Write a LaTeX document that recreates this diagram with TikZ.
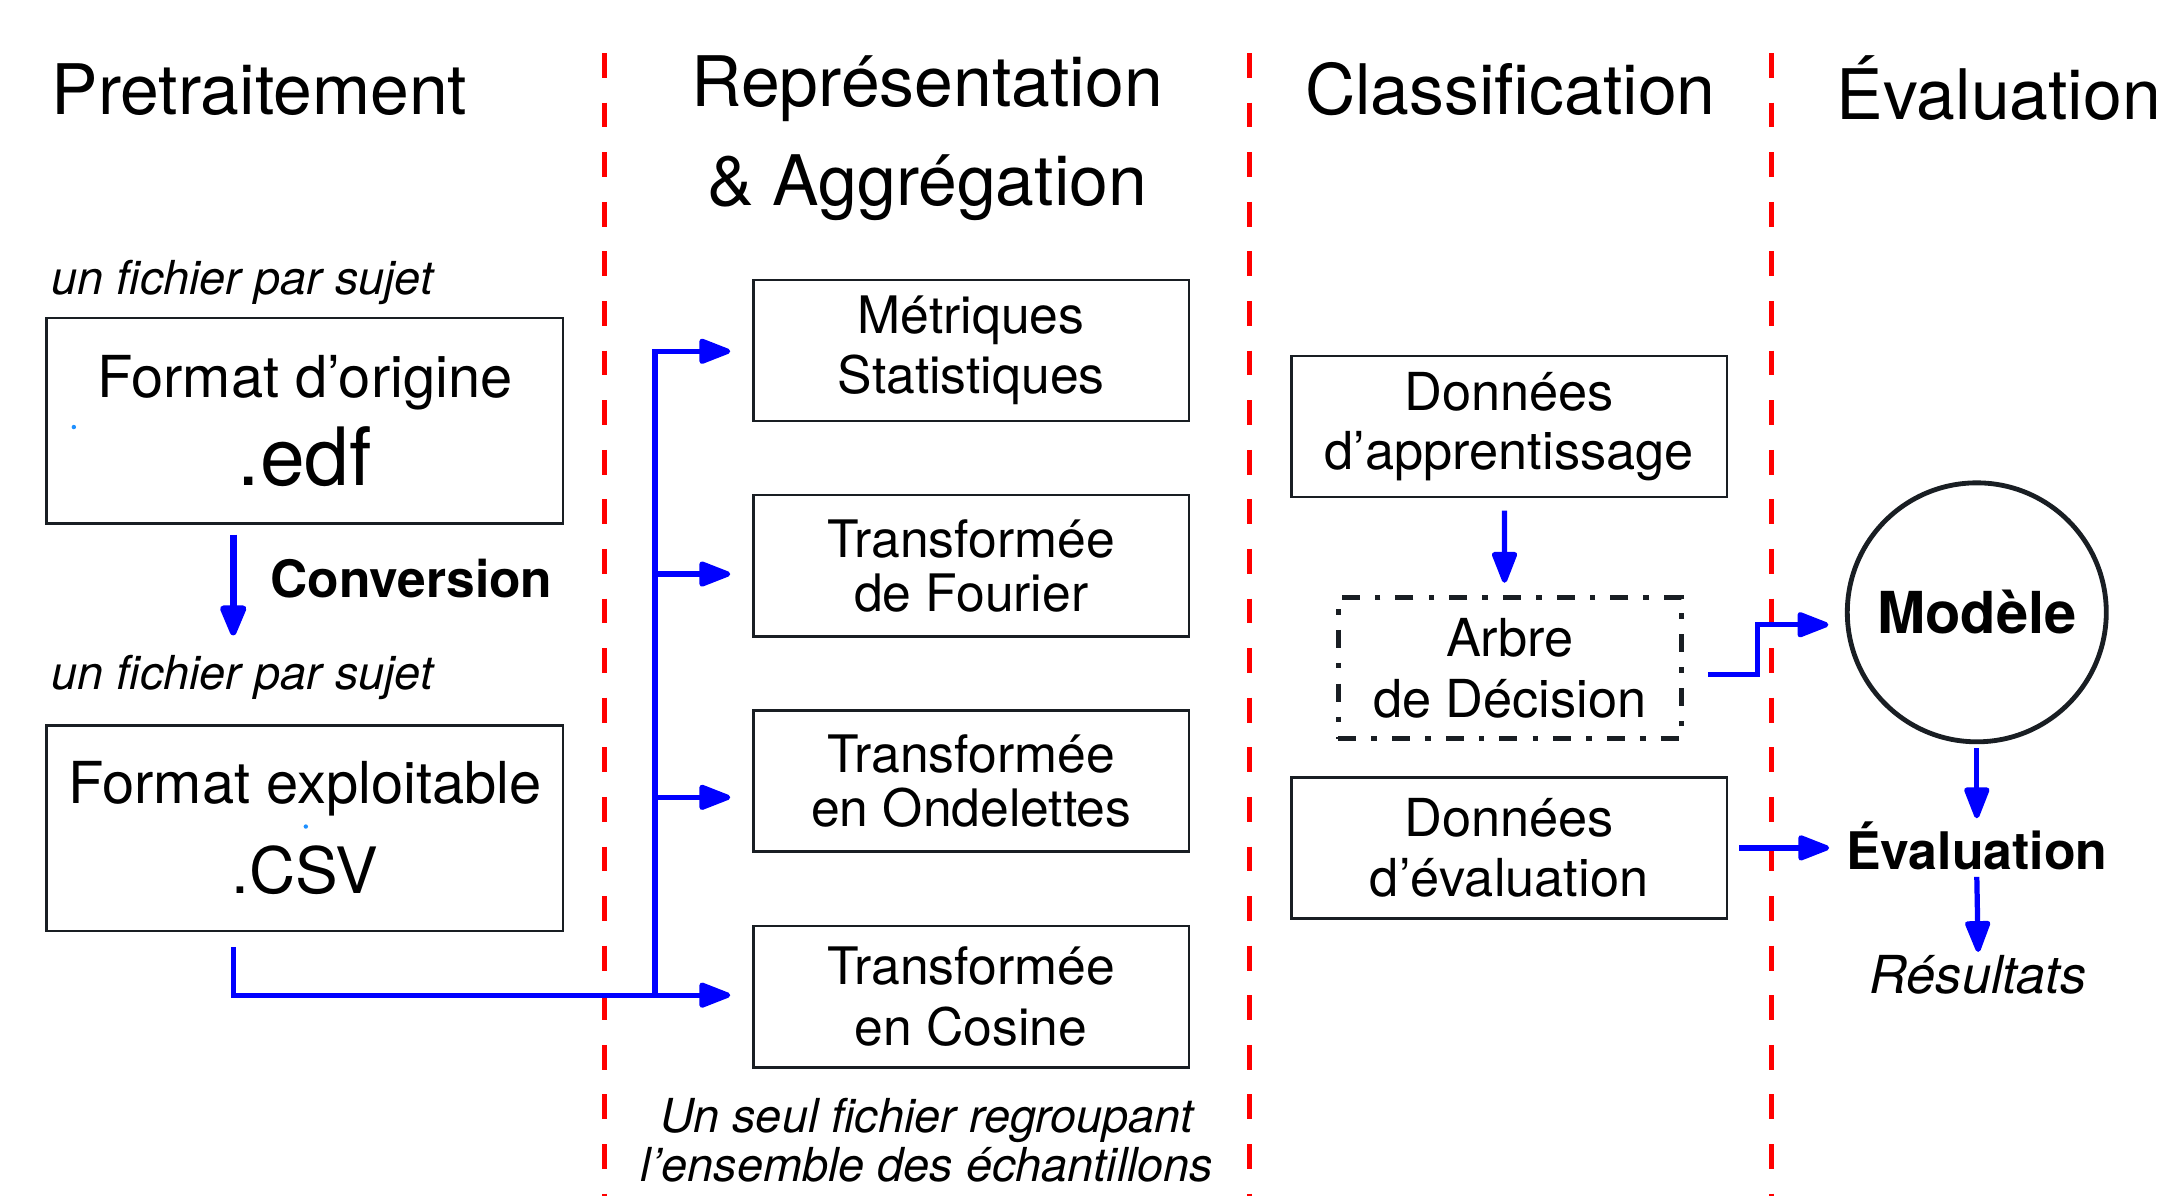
\documentclass[tikz,border=0pt]{standalone}
\usepackage{fontspec}
\setmainfont{TeX Gyre Heros}
\usetikzlibrary{arrows.meta,calc}
\definecolor{dotblue}{RGB}{30,144,255}
\definecolor{boxline}{RGB}{25,30,35}
\begin{document}
\begin{tikzpicture}[x=0.5pt,y=-0.5pt,
  box/.style={draw=boxline, line width=0.9pt, inner sep=0pt, align=center,
    minimum width=158pt, minimum height=51.25pt},
  bigbox/.style={draw=boxline, line width=0.9pt, inner sep=0pt, align=center,
    minimum width=187.5pt, minimum height=74.5pt},
  dashdotbox/.style={draw=boxline, line width=1.7pt,
    dash pattern=on 6.5pt off 5.5pt on 2pt off 5.5pt},
  flow/.style={draw=blue, line width=1.9pt, -{Triangle[length=13pt,width=9.5pt,round]}},
  conv/.style={draw=blue, line width=2.4pt, -{Triangle[length=13pt,width=10pt,round]}},
  sep/.style={draw=red, line width=1.8pt, dash pattern=on 9pt off 9pt},
  head/.style={font=\fontsize{25.3}{36}\selectfont, inner sep=0pt},
  note/.style={font=\fontsize{17}{18}\selectfont\itshape, inner sep=0pt},
]
\useasboundingbox (0,0) rectangle (1568,868);

% separators
\draw[sep] (439,38.5) -- (439,868);
\draw[sep] (907,38.5) -- (907,868);
\draw[sep] (1286,38.5) -- (1286,868);

% headers
\node[head, anchor=base west] (hpre) at (37,83) {Pretraitement};
\node[head, align=center] (hrep) at (673,100.6) {Représentation\\\& Aggrégation};
\node[head, anchor=base west] (hcla) at (947,83) {Classification};
\node[head, anchor=base west] (heva) at (1333,87) {Évaluation};

% left column
\node[note, anchor=base west] (n1) at (37,214) {un fichier par sujet};
\node[bigbox, font=\fontsize{21}{32}\selectfont] (orig) at (221.3,305.4)
  {Format d’origine\\{\fontsize{29.2}{30}\selectfont .edf}};
\node[font=\fontsize{18.7}{20}\selectfont\bfseries, anchor=base west, inner sep=0pt] (convl) at (196,434) {Conversion};
\node[note, anchor=base west] (n2) at (37,500.7) {un fichier par sujet};
\node[bigbox, font=\fontsize{21}{32.5}\selectfont] (csv) at (221.3,601.2)
  {Format exploitable\\{\fontsize{23.2}{24}\selectfont .CSV}};
\fill[dotblue] (53.6,310) circle (1.6);
\fill[dotblue] (222,600) circle (1.6);

\draw[conv] ([xshift=-26pt,yshift=-3.6pt]orig.south) -- ([xshift=-26pt,yshift=32.3pt]csv.north);

% middle column
\node[box, font=\fontsize{18.75}{22}\selectfont] (stat) at (705,254.4) {Métriques\\Statistiques};
\node[box, font=\fontsize{18.75}{19.5}\selectfont] (four) at (705,410.7) {Transformée\\de Fourier};
\node[box, font=\fontsize{18.75}{19.5}\selectfont] (onde) at (705,567) {Transformée\\en Ondelettes};
\node[box, font=\fontsize{18.75}{22}\selectfont] (cos) at (705,723.6) {Transformée\\en Cosine};
\node[note, align=center] (agg) at (673,827.6) {Un seul fichier regroupant\\l’ensemble des échantillons};

\coordinate (junc) at (475.5,722.4);
\draw[flow] ([xshift=-26pt,yshift=-5.6pt]csv.south) |- ([xshift=-8pt,yshift=0.6pt]cos.west);
\draw[flow] (junc) |- ([xshift=-8pt,yshift=-0.3pt]stat.west);
\draw[flow] (junc) |- ([xshift=-8pt,yshift=-3pt]four.west);
\draw[flow] (junc) |- ([xshift=-8pt,yshift=-5.9pt]onde.west);

% classification column
\node[box, font=\fontsize{19}{21.5}\selectfont] (app) at (1095.5,309.5) {Données\\d’apprentissage};
\node[box, dashdotbox, minimum width=124.5pt, font=\fontsize{19}{22}\selectfont] (arbre) at (1096,485) {Arbre\\de Décision};
\node[box, font=\fontsize{19}{21.5}\selectfont] (evd) at (1095.5,615.5) {Données\\d’évaluation};

\draw[flow] ([xshift=-1.7pt,yshift=-4.5pt]app.south) -- ([xshift=-1.9pt,yshift=4.5pt]arbre.north);

% evaluation column
\node[circle, draw=boxline, line width=1.75pt, minimum size=94pt, inner sep=0pt,
  font=\fontsize{21}{24}\selectfont\bfseries] (mod) at (1435,444.5) {Modèle};
\node[font=\fontsize{18.8}{20}\selectfont\bfseries, inner sep=0pt, anchor=base] (ev) at (1435,631) {Évaluation};
\node[font=\fontsize{19}{20}\selectfont\itshape, inner sep=0pt, anchor=base] (res) at (1436,721) {Résultats};

\draw[flow] ([xshift=8.75pt,yshift=-2.25pt]arbre.east) -- ++(36,0) |- ([xshift=-6pt,yshift=-4.5pt]mod.west);
\draw[flow] ([xshift=4pt]evd.east) -- ($(ev.west |- evd.east)+(-12,0)$);
\draw[flow] ([yshift=-1.5pt]mod.south) -- ([yshift=18.5pt]ev.base);
\draw[flow] ([yshift=-2.75pt]ev.base) -- ([yshift=15pt]res.base);
\end{tikzpicture}
\end{document}
